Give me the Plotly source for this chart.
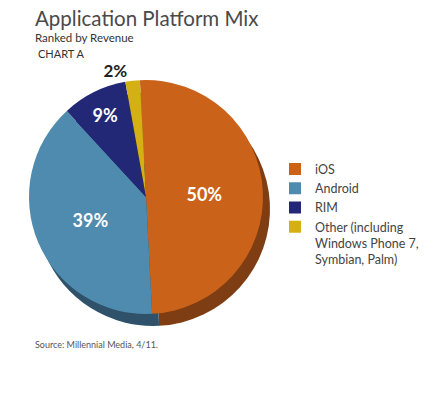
import plotly.graph_objects as go

labels = ["iOS", "Android", "RIM", "Other (including<br>Windows Phone 7,<br>Symbian, Palm)"]
values = [50, 39, 9, 2]
face_colors = ["#CB6219", "#4F8BAE", "#232876", "#D4B014"]
side_colors = ["#7E3D12", "#2F526A", "#161A4E", "#8A7210"]
text_colors = ["#FFFFFF", "#FFFFFF", "#FFFFFF", "#222222"]
text_pos = ["inside", "inside", "inside", "outside"]

W, H = 440, 401
cx, cy, r = 146, 197, 117
dx, dy = 7, 12

def dom(cx, cy):
    return dict(x=[(cx - r) / W, (cx + r) / W], y=[1 - (cy + r) / H, 1 - (cy - r) / H])

fig = go.Figure()
# extruded side (shadow copy of the pie)
fig.add_trace(go.Pie(
    labels=[l + " side" for l in labels], values=values, sort=False, direction="clockwise",
    rotation=-3, domain=dom(cx + dx, cy + dy), textinfo="none", showlegend=False,
    marker=dict(colors=side_colors, line=dict(width=0)), hoverinfo="skip",
))
fig.add_trace(go.Pie(
    labels=labels, values=values, sort=False, direction="clockwise",
    rotation=-3, domain=dom(cx, cy),
    textinfo="percent", textposition=text_pos, insidetextorientation="horizontal",
    texttemplate="%{value}%",
    textfont=dict(family="Lato", size=18, color=text_colors, weight="bold"),
    outsidetextfont=dict(family="Lato", size=17, color="#222222", weight="bold"),
    marker=dict(colors=face_colors, line=dict(width=0)),
))

fig.update_layout(
    width=W, height=H, margin=dict(l=0, r=0, t=0, b=0),
    paper_bgcolor="white", plot_bgcolor="white",
    font=dict(family="Lato", color="#444444"),
    legend=dict(x=0.625, y=0.615, xanchor="left", yanchor="top", valign="top",
                font=dict(family="Lato", size=12.5, color="#444444"),
                bgcolor="rgba(0,0,0,0)", traceorder="normal"),
    annotations=[
        dict(text="Application Platform Mix", x=33 / W, y=1 - 4 / H, xref="paper", yref="paper",
             xanchor="left", yanchor="top", showarrow=False,
             font=dict(family="Lato", size=20.5, color="#4a4a4a")),
        dict(text="Ranked by Revenue", x=33 / W, y=1 - 29 / H, xref="paper", yref="paper",
             xanchor="left", yanchor="top", showarrow=False,
             font=dict(family="Lato", size=11.5, color="#333333")),
        dict(text="CHART A", x=36 / W, y=1 - 45 / H, xref="paper", yref="paper",
             xanchor="left", yanchor="top", showarrow=False,
             font=dict(family="Lato", size=11, color="#333333")),
        dict(text="Source: Millennial Media, 4/11.", x=33 / W, y=1 - 337 / H, xref="paper", yref="paper",
             xanchor="left", yanchor="top", showarrow=False,
             font=dict(family="Lato", size=9, color="#555555")),
    ],
)

fig.write_html("out.html")
